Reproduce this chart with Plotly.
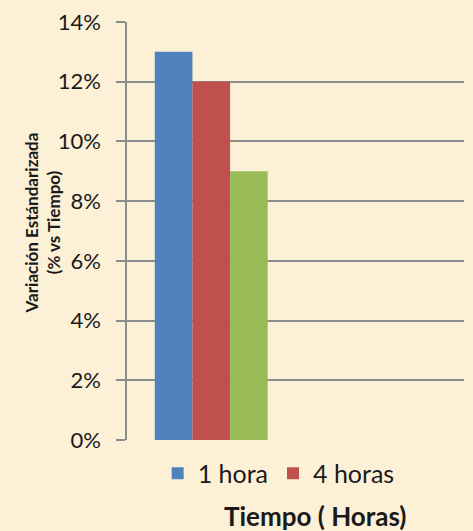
import plotly.graph_objects as go

# Data
series_names = ["1 hora", "4 horas", "8 horas"]
series_values = [0.13, 0.12, 0.09]
series_colors = ["#4F81BD", "#C0504D", "#9BBB59"]
show_in_legend = [True, True, False]
y_ticks = [0, 0.02, 0.04, 0.06, 0.08, 0.10, 0.12, 0.14]
y_tick_labels = ["0%", "2%", "4%", "6%", "8%", "10%", "12%", "14%"]

FONT = "Lato, 'Open Sans', sans-serif"

fig = go.Figure()
for name, val, col, sl in zip(series_names, series_values, series_colors, show_in_legend):
    fig.add_trace(go.Bar(x=[0], y=[val], name=name, marker=dict(color=col, line=dict(width=0)),
                         showlegend=sl))

fig.update_layout(
    width=473, height=531,
    margin=dict(l=127, r=9, t=22, b=91),
    paper_bgcolor="#FCF0D7",
    plot_bgcolor="rgba(0,0,0,0)",
    barmode="group",
    bargap=0.33,
    bargroupgap=0,
    font=dict(family=FONT, color="#1a1a1a"),
    legend=dict(orientation="h", x=0.45, xanchor="center", y=-0.08, yanchor="middle",
                font=dict(size=25, family=FONT), bgcolor="rgba(0,0,0,0)",
                itemwidth=30, traceorder="normal"),
    xaxis=dict(range=[-0.5, 1.5], showticklabels=False, showgrid=False, zeroline=False,
               showline=False, ticks=""),
    yaxis=dict(range=[0, 0.14], tickvals=y_ticks, ticktext=y_tick_labels,
               showgrid=True, gridcolor="#8C8C8C", gridwidth=1.5,
               showline=True, linecolor="#8C8C8C", linewidth=1.5,
               ticks="outside", ticklen=9, tickcolor="#8C8C8C", tickwidth=1.5,
               zeroline=False, tickfont=dict(size=22, family=FONT), ticklabelstandoff=11),
    annotations=[
        dict(text="<b>Variación Estándarizada<br>(% vs Tiempo)</b>", x=-0.25, y=0.52,
             xref="paper", yref="paper", xanchor="center", yanchor="middle",
             textangle=-90, showarrow=False, font=dict(size=17, family=FONT)),
        dict(text="<b>Tiempo ( Horas)</b>", x=0.56, y=-0.182, xref="paper", yref="paper",
             xanchor="center", yanchor="middle", showarrow=False,
             font=dict(size=26, family=FONT)),
    ],
)

fig.write_html("out.html", config={"displayModeBar": False})

# remove default browser body margin so the figure sits at the page origin
with open("out.html", "r", encoding="utf-8") as f:
    html = f.read()
html = html.replace("<head>", "<head><style>html,body{margin:0;padding:0;overflow:hidden;}</style>", 1)
with open("out.html", "w", encoding="utf-8") as f:
    f.write(html)
